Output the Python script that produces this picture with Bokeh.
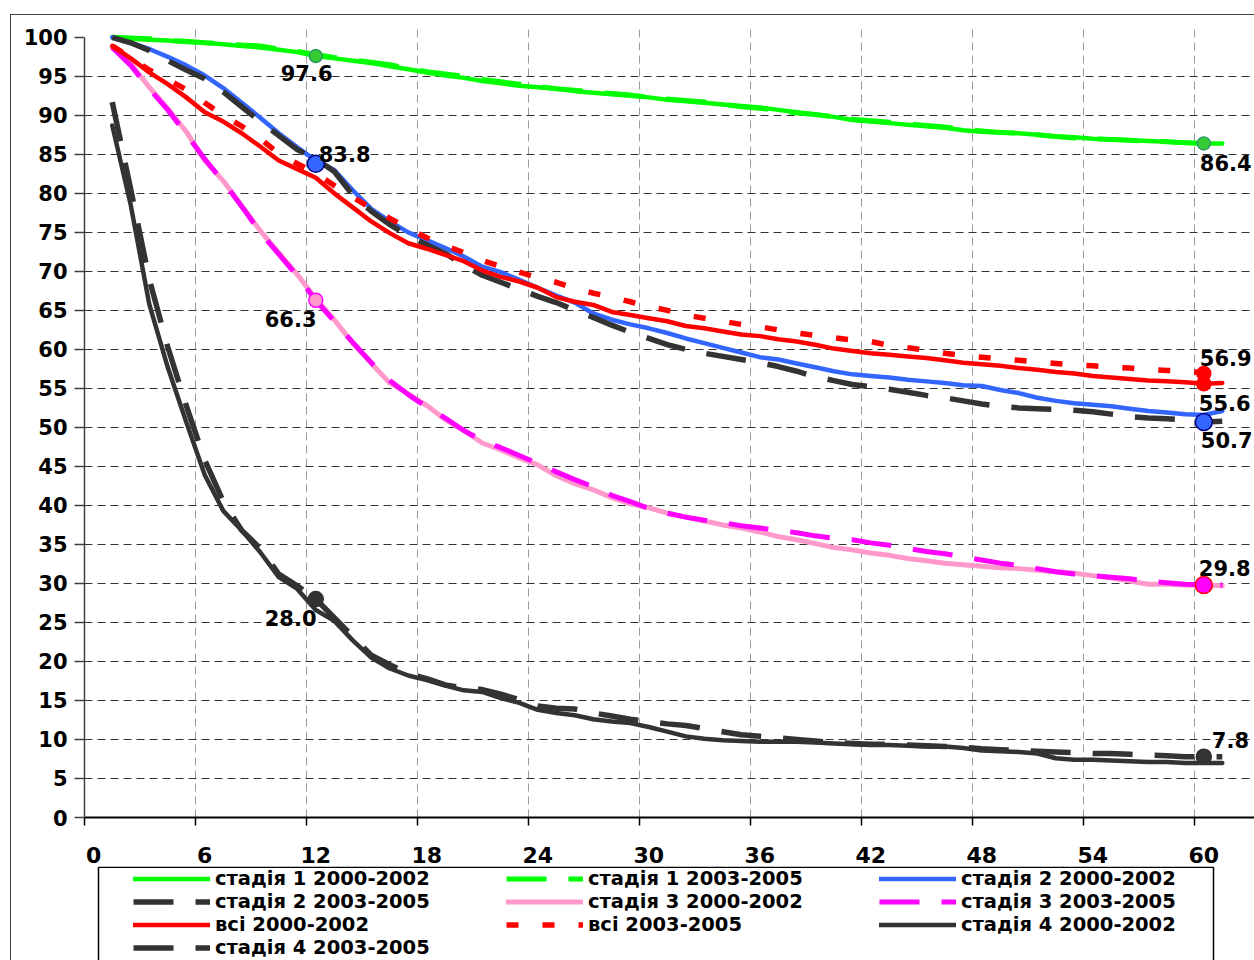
from bokeh.plotting import figure
from bokeh.layouts import column
from bokeh.models import (FixedTicker, Range1d, Legend, LegendItem, ColumnDataSource)
from bokeh.core.properties import value
from bokeh.embed import file_html
from bokeh.resources import INLINE

# ---------------- data ----------------
months = list(range(1, 62))

stage1_2000_2002 = [100.0, 99.8, 99.7, 99.6, 99.4, 99.3, 99.1, 98.9, 98.7, 98.4,
                    98.1, 97.6, 97.3, 97.0, 96.7, 96.3, 95.9, 95.5, 95.1, 94.8,
                    94.4, 94.1, 93.8, 93.6, 93.4, 93.1, 92.9, 92.7, 92.5, 92.3,
                    92.0, 91.8, 91.6, 91.4, 91.2, 91.0, 90.7, 90.4, 90.1, 89.8,
                    89.4, 89.2, 89.0, 88.8, 88.6, 88.4, 88.1, 87.9, 87.8, 87.7,
                    87.5, 87.3, 87.2, 87.0, 86.9, 86.8, 86.7, 86.6, 86.5, 86.4, 86.4]
stage1_2003_2005 = [100.0, 99.9, 99.8, 99.6, 99.5, 99.3, 99.2, 99.0, 98.9, 98.5,
                    98.2, 97.8, 97.4, 97.1, 96.8, 96.5, 96.0, 95.6, 95.3, 95.0,
                    94.6, 94.3, 94.0, 93.7, 93.4, 93.2, 93.0, 92.8, 92.6, 92.3,
                    92.1, 91.9, 91.7, 91.4, 91.1, 90.9, 90.6, 90.3, 90.1, 89.8,
                    89.5, 89.3, 89.1, 88.9, 88.7, 88.5, 88.2, 88.0, 87.8, 87.7,
                    87.5, 87.3, 87.1, 87.0, 86.9, 86.8, 86.7, 86.6, 86.5, 86.4, 86.4]
stage2_2000_2002 = [100.0, 99.3, 98.5, 97.5, 96.4, 95.1, 93.5, 91.6, 89.7, 87.7,
                    85.9, 84.2, 83.0, 80.4, 78.0, 76.4, 75.0, 74.0, 73.0, 71.9,
                    70.6, 69.9, 68.9, 67.9, 66.9, 66.0, 64.6, 63.8, 63.2, 62.7,
                    62.1, 61.4, 60.8, 60.2, 59.6, 59.0, 58.7, 58.2, 57.7, 57.2,
                    56.8, 56.6, 56.4, 56.1, 55.9, 55.7, 55.4, 55.3, 54.8, 54.4,
                    53.8, 53.4, 53.1, 52.9, 52.7, 52.4, 52.1, 51.9, 51.7, 51.6, 52.1]
stage2_2003_2005 = [100.0, 99.3, 98.3, 97.0, 95.8, 94.7, 93.0, 91.1, 89.2, 87.4,
                    85.6, 84.4, 82.8, 79.8, 77.7, 76.0, 74.6, 73.4, 72.3, 70.8,
                    69.5, 68.6, 67.7, 66.8, 66.0, 65.0, 64.1, 63.1, 62.2, 61.4,
                    60.6, 60.0, 59.5, 59.1, 58.7, 58.3, 57.8, 57.2, 56.5, 56.0,
                    55.5, 55.2, 54.9, 54.5, 54.1, 53.8, 53.4, 53.0, 52.7, 52.5,
                    52.4, 52.3, 52.2, 52.0, 51.7, 51.4, 51.2, 51.1, 51.0, 50.7, 50.8]
stage3_2000_2002 = [98.7, 96.6, 93.6, 90.9, 87.9, 84.2, 81.6, 78.4, 75.2, 72.4,
                    69.6, 66.5, 63.8, 60.8, 58.2, 55.7, 54.3, 52.8, 51.0, 49.6,
                    48.0, 47.1, 46.1, 45.2, 43.8, 42.8, 42.0, 41.0, 40.2, 39.7,
                    39.0, 38.5, 38.0, 37.5, 37.1, 36.6, 36.0, 35.6, 35.1, 34.6,
                    34.3, 33.9, 33.6, 33.2, 32.9, 32.6, 32.4, 32.2, 32.0, 31.9,
                    31.7, 31.5, 31.3, 31.0, 30.7, 30.3, 29.9, 29.9, 29.8, 29.8, 29.7]
stage3_2003_2005 = [98.7, 96.4, 93.4, 90.7, 87.6, 84.4, 81.5, 78.3, 75.0, 72.2,
                    69.4, 66.3, 63.6, 60.9, 58.3, 56.0, 54.2, 52.6, 51.2, 49.6,
                    48.3, 47.4, 46.4, 45.4, 44.3, 43.3, 42.4, 41.3, 40.5, 39.6,
                    39.0, 38.5, 38.1, 37.8, 37.4, 37.1, 36.8, 36.5, 36.1, 35.8,
                    35.6, 35.2, 34.9, 34.5, 34.1, 33.8, 33.4, 33.0, 32.6, 32.3,
                    31.9, 31.5, 31.2, 31.0, 30.8, 30.6, 30.3, 30.1, 29.9, 29.8, 29.8]
all_2000_2002 = [98.9, 97.3, 95.5, 94.0, 92.3, 90.4, 89.2, 87.7, 86.0, 84.2,
                 83.1, 82.0, 80.0, 78.2, 76.4, 74.9, 73.6, 72.9, 72.1, 71.3,
                 70.1, 69.3, 68.7, 67.9, 66.7, 66.1, 65.7, 64.8, 64.4, 64.0,
                 63.6, 63.0, 62.7, 62.3, 61.9, 61.7, 61.3, 61.0, 60.6, 60.1,
                 59.8, 59.5, 59.3, 59.1, 58.9, 58.6, 58.3, 58.1, 57.9, 57.6,
                 57.4, 57.1, 56.9, 56.6, 56.4, 56.2, 56.0, 55.9, 55.8, 55.6, 55.7]
all_2003_2005 = [98.9, 97.4, 95.8, 94.6, 93.3, 91.6, 90.0, 88.6, 87.0, 85.1,
                 83.8, 82.6, 81.0, 79.5, 78.1, 76.8, 75.5, 74.3, 73.3, 72.4,
                 71.4, 70.6, 69.9, 69.2, 68.6, 67.8, 67.2, 66.7, 66.1, 65.5,
                 65.0, 64.4, 64.0, 63.6, 63.2, 62.9, 62.5, 62.1, 61.8, 61.5,
                 61.2, 61.0, 60.5, 60.2, 59.9, 59.5, 59.2, 59.0, 58.8, 58.6,
                 58.4, 58.2, 58.0, 57.9, 57.7, 57.6, 57.4, 57.3, 57.2, 57.0, 57.0]
stage4_2000_2002 = [88.7, 78.5, 65.8, 57.7, 50.7, 43.9, 39.3, 36.8, 34.0, 30.8,
                    29.3, 26.6, 25.2, 22.7, 20.5, 19.1, 18.2, 17.6, 16.9, 16.3,
                    16.1, 15.3, 14.7, 13.8, 13.4, 13.1, 12.6, 12.3, 12.1, 11.6,
                    11.0, 10.4, 10.1, 9.9, 9.8, 9.7, 9.7, 9.7, 9.6, 9.5,
                    9.4, 9.3, 9.3, 9.2, 9.1, 9.1, 8.9, 8.6, 8.5, 8.4,
                    8.2, 7.6, 7.4, 7.4, 7.3, 7.2, 7.1, 7.1, 7.0, 7.0, 7.0]
stage4_2003_2005 = [91.7, 80.5, 69.0, 60.3, 52.8, 45.8, 40.5, 36.8, 34.5, 31.2,
                    29.7, 28.0, 25.6, 23.2, 20.8, 19.6, 18.4, 17.8, 17.0, 16.6,
                    16.4, 15.8, 15.1, 14.3, 14.0, 13.9, 13.4, 13.0, 12.6, 12.3,
                    12.0, 11.8, 11.4, 11.0, 10.6, 10.4, 10.2, 10.0, 9.8, 9.6,
                    9.5, 9.4, 9.4, 9.3, 9.2, 9.1, 9.0, 8.8, 8.7, 8.6,
                    8.5, 8.4, 8.3, 8.2, 8.2, 8.1, 8.0, 7.9, 7.8, 7.8, 7.8]

series_names = ["стадія 1 2000-2002", "стадія 1 2003-2005",
                "стадія 2 2000-2002", "стадія 2 2003-2005",
                "стадія 3 2000-2002", "стадія 3 2003-2005",
                "всі 2000-2002", "всі 2003-2005",
                "стадія 4 2000-2002", "стадія 4 2003-2005"]
series_values = [stage1_2000_2002, stage1_2003_2005,
                 stage2_2000_2002, stage2_2003_2005,
                 stage3_2000_2002, stage3_2003_2005,
                 all_2000_2002, all_2003_2005,
                 stage4_2000_2002, stage4_2003_2005]

marker_months = [12, 12, 12, 12, 60, 60, 60, 60, 60, 60]
marker_values = [97.6, 83.8, 66.3, 28.0, 86.4, 56.9, 55.6, 50.7, 29.8, 7.8]

x_tick_values = [0, 6, 12, 18, 24, 30, 36, 42, 48, 54, 60]
x_tick_labels = [str(v) for v in x_tick_values]
y_tick_values = list(range(0, 101, 5))

# ---------------- styles ----------------
series_colors = ["#00FF00", "#00FF00", "#3366FF", "#333333", "#FF99CC",
                 "#FF00FF", "#FF0000", "#FF0000", "#333333", "#333333"]
series_dash = ["solid", "40 22", "solid", "40 22", "solid",
               "40 22", "solid", "12 24", "solid", "40 22"]
series_width = [4.5, 5, 4.5, 5.5, 5, 5, 4.5, 5.5, 4.5, 5.5]

marker_sizes = [13, 17, 14, 15, 13, 14, 14, 17, 17, 15]
marker_fill = ["#33CC33", "#3366FF", "#FF99CC", "#333333", "#33CC33",
               "#FF0000", "#FF0000", "#3366FF", "#FF00FF", "#333333"]
marker_line = ["#339966", "#000080", "#FF00FF", "#333333", "#339966",
               "#FF0000", "#FF0000", "#000080", "#FF0000", "#333333"]
label_dx = [-35, 3, -51, -51, -4, -4, -5, -3, -5, 8]
label_dy = [17, -10, 19, 19, 20, -16, 19, 18, -17, -17]

FONT = "DejaVu Sans"
W = 1243          # content width inside the outer chart border
LEFT = 73         # left border of both plot frames

# ---------------- main plot ----------------
p = figure(width=W, height=851,
           x_range=Range1d(-0.5, 62.74), y_range=Range1d(0, 101),
           output_backend="svg", toolbar_location=None,
           min_border_left=LEFT, min_border_right=0,
           min_border_top=14, min_border_bottom=49)
p.outline_line_color = None
p.background_fill_color = "white"
p.border_fill_color = "white"

xt = FixedTicker(ticks=x_tick_values, minor_ticks=[v - 0.5 for v in x_tick_values])
xa = p.xaxis[0]
xa.ticker = xt
xa.major_label_overrides = {v: l for v, l in zip(x_tick_values, x_tick_labels)}
xa.major_tick_out = 0
xa.major_tick_in = 0
xa.minor_tick_out = 8
xa.minor_tick_in = 0
xa.minor_tick_line_color = "#000000"
xa.minor_tick_line_width = 1.5
xa.axis_line_color = "#000000"
xa.axis_line_width = 2
xa.major_label_standoff = 21
xa.major_label_text_font = FONT
xa.major_label_text_font_style = "bold"
xa.major_label_text_font_size = "22px"
xa.major_label_text_color = "#000000"

ya = p.yaxis[0]
ya.ticker = FixedTicker(ticks=y_tick_values)
ya.bounds = (0, 100)
ya.major_tick_out = 10
ya.major_tick_in = 0
ya.minor_tick_out = 0
ya.minor_tick_in = 0
ya.axis_line_color = "#404040"
ya.axis_line_width = 1.5
ya.major_tick_line_color = "#404040"
ya.major_tick_line_width = 1.5
ya.major_label_standoff = 7
ya.major_label_text_font = FONT
ya.major_label_text_font_style = "bold"
ya.major_label_text_font_size = "21px"
ya.major_label_text_color = "#000000"

p.xgrid.ticker = xt
p.xgrid.grid_line_color = None
p.xgrid.minor_grid_line_color = "#999999"
p.xgrid.minor_grid_line_dash = "8 5"
p.xgrid.minor_grid_line_width = 1

p.ygrid.ticker = FixedTicker(ticks=y_tick_values[1:-1])
p.ygrid.grid_line_color = "#333333"
p.ygrid.grid_line_dash = "8 5"
p.ygrid.grid_line_width = 1

for ys, col, dash, w in zip(series_values, series_colors, series_dash, series_width):
    p.line(months, ys, line_color=col, line_width=w, line_dash=dash,
           line_join="round", line_cap="round" if dash == "solid" else "butt")

msrc = ColumnDataSource(dict(x=marker_months, y=marker_values, size=marker_sizes,
                             fill=marker_fill, line=marker_line,
                             text=[f"{v:.1f}" for v in marker_values],
                             dx=label_dx, dy=label_dy))
p.scatter("x", "y", source=msrc, size="size", fill_color="fill",
          line_color="line", line_width=1.5)
p.text("x", "y", text="text", source=msrc, x_offset="dx", y_offset="dy",
       text_align="left", text_baseline="middle",
       text_font=value(FONT), text_font_style="bold",
       text_font_size="21px", text_color="#000000")

# ---------------- legend strip (screen-pixel coordinates) ----------------
LH = 94
lf = figure(width=W, height=LH, x_range=Range1d(LEFT, W), y_range=Range1d(LH, 0),
            output_backend="svg", toolbar_location=None,
            x_axis_type=None, y_axis_type=None,
            min_border_left=LEFT, min_border_right=0, min_border_top=0,
            min_border_bottom=0)
lf.outline_line_color = None
lf.xgrid.visible = False
lf.ygrid.visible = False
lf.background_fill_color = "white"
lf.border_fill_color = "white"

# legend frame (open at the bottom, where the picture is cut)
lf.line([87, 87, 1202, 1202], [LH + 5, 0.75, 0.75, LH + 5],
        line_color="#000000", line_width=1.5)

nan = float("nan")
items = []
for name, col, dash, w in zip(series_names, series_colors, series_dash, series_width):
    r = lf.line([nan, nan], [nan, nan], line_color=col, line_width=w, line_dash=dash,
                line_cap="round" if dash == "solid" else "butt")
    items.append(LegendItem(label=name, renderers=[r]))

legend = Legend(items=items, orientation="horizontal", ncols=3,
                location=(122 - LEFT, 1),
                glyph_width=77, glyph_height=21, label_height=21,
                label_width=291, label_standoff=5, spacing=0,
                padding=0, margin=0,
                border_line_color=None, background_fill_alpha=0,
                label_text_font=FONT, label_text_font_style="bold",
                label_text_font_size="19.5px", label_text_color="#000000")
lf.add_layout(legend)

layout = column(p, lf, spacing=0, margin=(14, 0, 0, 10),
                styles={"border-left": "1px solid #404040",
                        "border-top": "1px solid #404040"})

open("out.html", "w").write(file_html(layout, INLINE))
